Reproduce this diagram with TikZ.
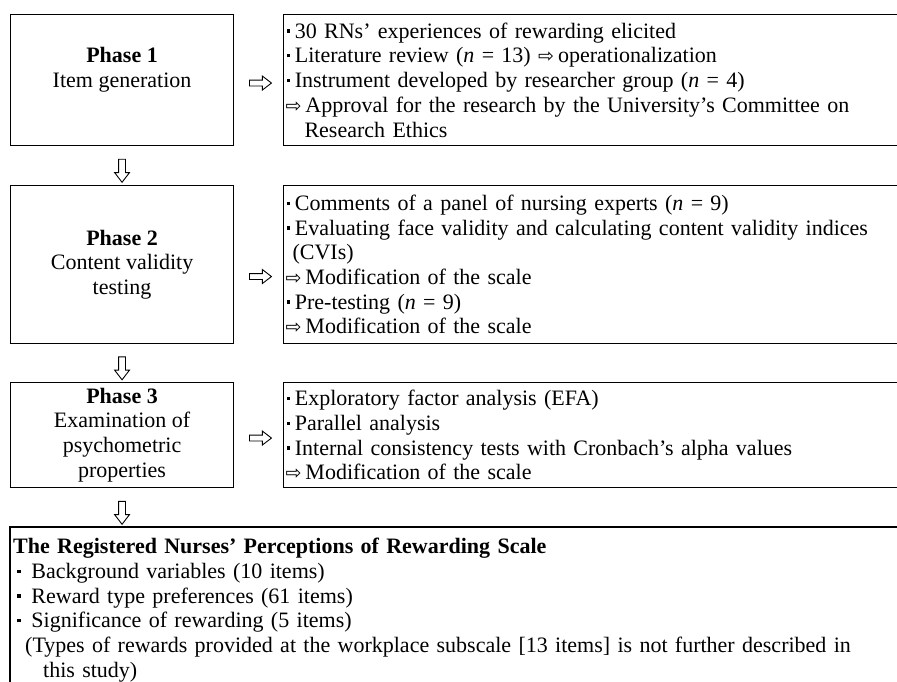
\documentclass[tikz,border=0pt]{standalone}
\usepackage{fontspec}
\setmainfont{Liberation Serif}
\newfontfamily\arrowfont{DejaVu Sans}
\usetikzlibrary{shapes.arrows,calc,positioning}

\newcommand{\sq}{\rule[0.25em]{0.15em}{0.15em}}
\newcommand{\itm}{\hspace*{1pt}\sq\hspace{5pt}}
\newcommand{\then}{{\arrowfont\fontsize{19}{19}\selectfont ⇨}\hspace{4pt}}

\begin{document}
\begin{tikzpicture}[x=1pt,y=-1pt,
   every node/.style={font=\fontsize{22}{24.7}\selectfont},
   phase/.style={draw,line width=1.1pt,minimum width=223pt,minimum height=#1,
      align=center,anchor=north west,inner sep=0pt},
   steps/.style={draw,line width=1.1pt,text width=640pt,minimum height=#1,
      align=left,anchor=north west,inner xsep=2pt,inner ysep=0pt},
   blockarrow/.style={draw,single arrow,line width=0.9pt,minimum height=22pt,
      single arrow head extend=4pt,single arrow tip angle=75,inner sep=2.5pt},
   downarrow/.style={blockarrow,rotate=-90,minimum height=23pt,inner sep=3pt}]
   \clip (0,0) rectangle (897,682);

   \node[phase=131pt] (p1) at (10,14) {\textbf{Phase 1}\\Item generation\\\mbox{}};
   \node[steps=131pt] (d1) at (283,14)
      {\itm 30 RNs’ experiences of rewarding elicited\\
       \itm Literature review (\textit{n} = 13) \then operationalization\\
       \itm Instrument developed by researcher group (\textit{n} = 4)\\
       \then Approval for the research by the University’s Committee on\\
       \hspace*{19pt}Research Ethics};

   \node[phase=158pt] (p2) at (10,185) {\textbf{Phase 2}\\Content validity\\testing};
   \node[steps=158pt] (d2) at (283,185)
      {\itm Comments of a panel of nursing experts (\textit{n} = 9)\\
       \itm Evaluating face validity and calculating content validity indices\\
       \hspace*{7pt}(CVIs)\\
       \then Modification of the scale\\
       \itm Pre-testing (\textit{n} = 9)\\
       \then Modification of the scale};

   \node[phase=105pt] (p3) at (10,382)
      {\textbf{Phase 3}\\Examination of\\psychometric\\properties};
   \node[steps=105pt] (d3) at (283,382)
      {\itm Exploratory factor analysis (EFA)\\
       \itm Parallel analysis\\
       \itm Internal consistency tests with Cronbach’s alpha values\\
       \then Modification of the scale};

   % the scale box runs off the page, only its top and left side show
   \node[anchor=north west,text width=880pt,align=left,inner xsep=3pt,inner ysep=11pt] (rns) at (10,527)
      {\textbf{The Registered Nurses’ Perceptions of Rewarding Scale}\\
       \hspace*{4pt}\sq\hspace{11pt}Background variables (10 items)\\
       \hspace*{4pt}\sq\hspace{11pt}Reward type preferences (61 items)\\
       \hspace*{4pt}\sq\hspace{11pt}Significance of rewarding (5 items)\\
       \hspace*{12pt}(Types of rewards provided at the workplace subscale [13 items] is not further described in\\
       \hspace*{30pt}this study)};
   \draw[line width=1.1pt] (rns.north west) rectangle ++(920,200);

   \node[blockarrow] (a1) at ($(p1.east)!.5!(d1.west)+(0,3)$) {};
   \node[blockarrow] (a2) at ($(p2.east)!.5!(d2.west)+(0,12)$) {};
   \node[blockarrow] (a3) at ($(p3.east)!.5!(d3.west)+(0,3)$) {};
   \node[downarrow] (b1) at ($(p1.south)!.5!(p2.north)+(0,3)$) {};
   \node[downarrow] (b2) at ($(p2.south)!.5!(p3.north)+(0,3)$) {};
   \node[downarrow] (b3) at ($(p3.south)!.5!(p3.south|-rns.north)+(0,3)$) {};
\end{tikzpicture}
\end{document}
